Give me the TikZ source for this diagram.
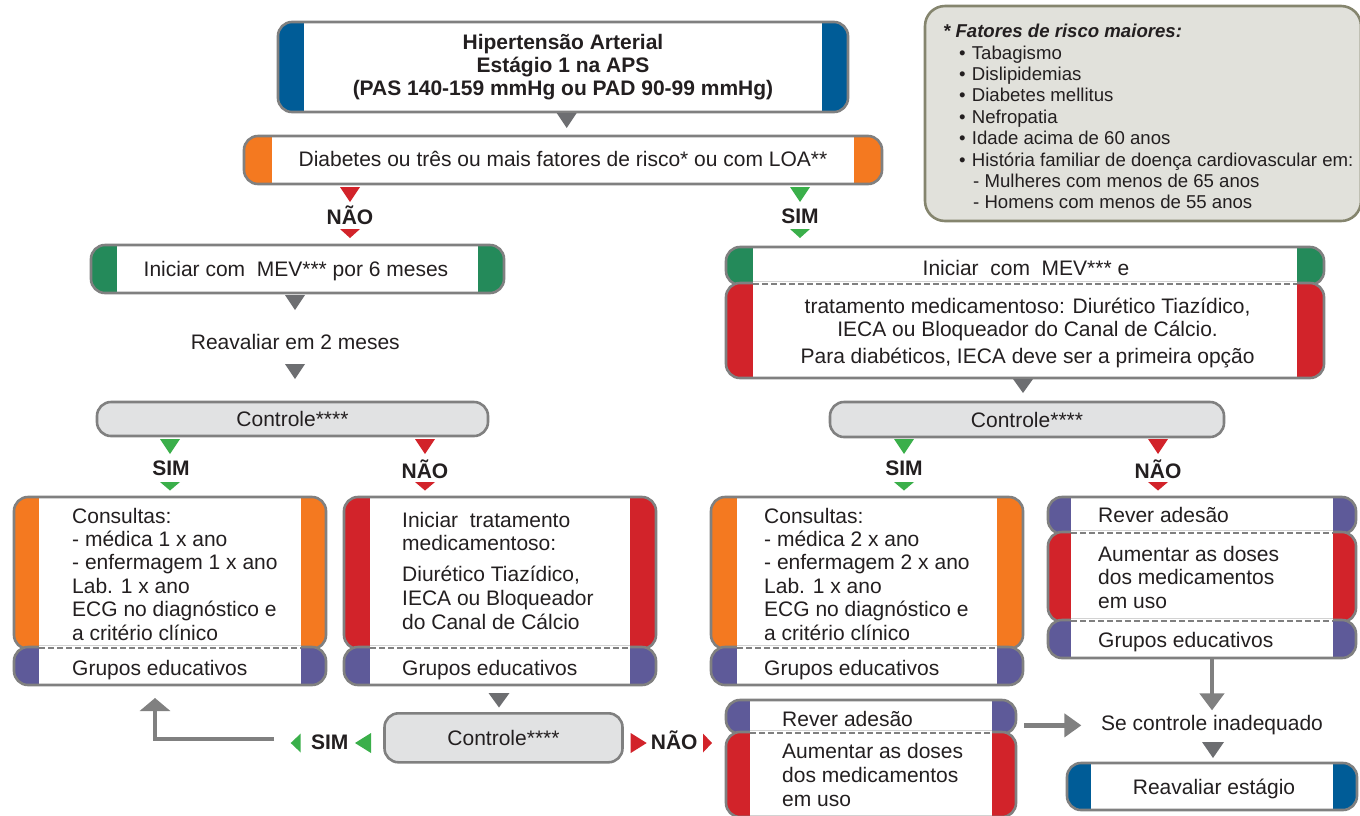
\documentclass[tikz,border=0pt]{standalone}
\usepackage{fontspec}
\setmainfont{Liberation Sans}
\usetikzlibrary{arrows.meta,calc}
\definecolor{hblue}{HTML}{005C97}
\definecolor{horange}{HTML}{F47920}
\definecolor{hgreen}{HTML}{248A5A}
\definecolor{hred}{HTML}{D2232A}
\definecolor{hpurple}{HTML}{5E5A99}
\definecolor{lgray}{HTML}{E1E2E3}
\definecolor{bgray}{HTML}{808080}
\definecolor{tgray}{HTML}{6D6E71}
\definecolor{bgreen}{HTML}{3AAF4A}
\definecolor{rfill}{HTML}{E1E1DB}
\definecolor{rborder}{HTML}{85856E}
\definecolor{tcol}{HTML}{231F20}
\newcommand\fbody{\fontsize{21}{25}\selectfont}
\newcommand\fsmall{\fontsize{18.6}{21}\selectfont}
\tikzset{
  sect/.style 2 args={draw=bgray, line width=2.6pt, fill=white, rounded corners=14pt,
    inner sep=0pt, outer sep=0pt,
    path picture={
      \fill[#1, sharp corners] (path picture bounding box.north west) rectangle ([xshift=#2pt]path picture bounding box.south west);
      \fill[#1, sharp corners] (path picture bounding box.north east) rectangle ([xshift=-#2pt]path picture bounding box.south east);}},
  ctrl/.style={draw=bgray, line width=2.6pt, fill=lgray, rounded corners=14pt, inner sep=0pt,
    outer sep=0pt, font=\fbody, text=tcol},
  txt/.style={font=\fbody, text=tcol, inner sep=0pt, anchor=base},
  ltxt/.style={font=\fbody, text=tcol, inner sep=0pt, anchor=base west},
  btxt/.style={font=\fbody\bfseries, text=tcol, inner sep=0pt, anchor=base},
  rtxt/.style={font=\fsmall, text=tcol, inner sep=0pt, anchor=base west},
  sepline/.style={draw=bgray, line width=2.4pt, dash pattern=on 5.5pt off 3.5pt},
  conn/.style={draw=bgray, line width=4.5pt},
}
% name, x1, y1, x2, y2, colour, bar width
\newcommand\mybox[7]{\node[sect={#6}{#7}, minimum width={(#4-#2)*1pt}, minimum height={(#5-#3)*1pt}] (#1) at ({(#2+#4)/2},{(#3+#5)/2}) {};}
% separator: x1, x2, y
\newcommand\mysep[3]{\fill[white] (#1,{#3-2.4}) rectangle (#2,{#3+2.4}); \draw[sepline] (#1,#3) -- (#2,#3);}
% down triangle: x, ytop, width, height, colour
\newcommand\dtri[5]{\fill[#5] ({#1-#3/2},#2) -- ({#1+#3/2},#2) -- (#1,{#2+#4}) -- cycle;}
% left triangle: xtip, ycentre, width, height, colour
\newcommand\ltri[5]{\fill[#5] (#1,#2) -- ({#1+#3},{#2-#4/2}) -- ({#1+#3},{#2+#4/2}) -- cycle;}
% right triangle: xtip, ycentre, width, height, colour
\newcommand\rtri[5]{\fill[#5] (#1,#2) -- ({#1-#3},{#2-#4/2}) -- ({#1-#3},{#2+#4/2}) -- cycle;}
\begin{document}
\begin{tikzpicture}[x=1pt,y=-1pt]
\useasboundingbox (0,0) rectangle (1360,815);

% risk factor box
\node[draw=rborder, fill=rfill, line width=2.6pt, rounded corners=20pt, inner sep=0pt,
  minimum width=436pt, minimum height=215pt] (risk) at (1143,113.5) {};
\node[rtxt, font=\fsmall\bfseries\itshape] (rk0) at (943,37.5) {* Fatores de risco maiores:};
\node[rtxt] (rk1) at (971.7,59) {Tabagismo};
\node[rtxt] (rk2) at (971.7,80.4) {Dislipidemias};
\node[rtxt] (rk3) at (971.7,101.8) {Diabetes mellitus};
\node[rtxt] (rk4) at (971.7,123.2) {Nefropatia};
\node[rtxt] (rk5) at (971.7,144.6) {Idade acima de 60 anos};
\node[rtxt] (rk6) at (971.7,166) {História familiar de doença cardiovascular em:};
\node[rtxt] (rk7) at (973,187.4) {- Mulheres com menos de 65 anos};
\node[rtxt] (rk8) at (973,208.8) {- Homens com menos de 55 anos};
\foreach \i/\y in {1/59,2/80.4,3/101.8,4/123.2,5/144.6,6/166}
  \node[rtxt, anchor=base] (bul\i) at (962.3,\y) {\textbullet};

% top box
\mybox{top}{278}{22}{848}{112}{hblue}{26}
\node[btxt] (t1) at (563,49.3) {Hipertensão Arterial};
\node[btxt] (t2) at (563,72.5) {Estágio 1 na APS};
\node[btxt] (t3) at (563,95.7) {(PAS 140-159 mmHg ou PAD 90-99 mmHg)};
\dtri{566.7}{113}{20}{15}{tgray}

% diabetes box
\mybox{diab}{244}{136}{882}{184}{horange}{28}
\node[txt] (d1) at (563,166.7) {Diabetes ou três ou mais fatores de risco* ou com LOA**};

% first branch labels
\dtri{350}{187}{20}{15}{hred}
\node[btxt] (nao1) at (350,224) {NÃO};
\dtri{350}{229}{20}{9}{hred}
\dtri{800}{187}{20}{15}{bgreen}
\node[btxt] (sim1) at (800,223) {SIM};
\dtri{800}{229}{20}{9}{bgreen}

% left column
\mybox{ini}{91}{245}{504}{293}{hgreen}{26}
\node[txt] (ini1) at (296,276.7) {Iniciar com\ \ MEV*** por 6 meses};
\dtri{295}{295}{20}{15}{tgray}
\node[txt] (reav) at (295.3,349) {Reavaliar em 2 meses};
\dtri{295}{364}{20}{15}{tgray}
\node[ctrl, minimum width=391pt, minimum height=34pt] (ctl1) at (292.5,419) {Controle****};

\dtri{170}{439}{20}{15}{bgreen}
\node[btxt] (sim2) at (171,475.7) {SIM};
\dtri{170}{482}{20}{8.5}{bgreen}
\dtri{425}{439}{20}{15}{hred}
\node[btxt] (nao2) at (425,478) {NÃO};
\dtri{425}{482}{20}{8.5}{hred}

% L1
\mybox{La}{14}{497}{326}{649}{horange}{25}
\mybox{Lb}{14}{647}{326}{685}{hpurple}{25}
\mysep{39}{301}{648}
\node[ltxt] (la1) at (72,523) {Consultas:};
\node[ltxt] (la2) at (72,546.4) {- médica 1 x ano};
\node[ltxt] (la3) at (72,569.8) {- enfermagem 1 x ano};
\node[ltxt] (la4) at (72,593.2) {Lab. 1 x ano};
\node[ltxt] (la5) at (72,616.6) {ECG no diagnóstico e};
\node[ltxt] (la6) at (72,640) {a critério clínico};
\node[ltxt] (lb1) at (72,675) {Grupos educativos};

% L2
\mybox{Ma}{344}{497}{656}{649}{hred}{26}
\mybox{Mb}{344}{647}{656}{685}{hpurple}{26}
\mysep{370}{630}{648}
\node[ltxt] (ma1) at (402,527.3) {Iniciar\ \ tratamento};
\node[ltxt] (ma2) at (402,550.7) {medicamentoso:};
\node[ltxt] (ma3) at (402,581.7) {Diurético Tiazídico,};
\node[ltxt] (ma4) at (402,605.5) {IECA ou Bloqueador};
\node[ltxt] (ma5) at (402,629.3) {do Canal de Cálcio};
\node[ltxt] (mb1) at (402,675) {Grupos educativos};
\dtri{499}{693}{21}{14.5}{tgray}

% bottom control
\node[ctrl, minimum width=238pt, minimum height=49pt] (ctl3) at (503.5,737.8) {Controle****};
\ltri{355}{743}{16}{20}{bgreen}
\node[btxt] (sim4) at (329.7,749) {SIM};
\ltri{290.7}{743}{10}{19}{bgreen}
\rtri{646.7}{743}{16}{20}{hred}
\node[btxt] (nao4) at (674.2,749) {NÃO};
\rtri{712}{743}{9}{19}{hred}
\coordinate (simend) at (274,739);
\coordinate (simtip) at (155,698);
\draw[conn, -{Triangle[width=30pt,length=13pt]}] (simend) -| (simtip);

% right column
\mybox{Qa}{726}{247}{1324}{285}{hgreen}{27}
\mybox{Qb}{726}{283}{1324}{378}{hred}{27}
\mysep{753}{1297}{284}
\node[txt] (qa1) at (1026,275) {Iniciar\ \ com\ \ MEV*** e};
\node[txt] (qb1) at (1027.6,313.3) {tratamento medicamentoso: Diurético Tiazídico,};
\node[txt] (qb2) at (1027.6,336.5) {IECA ou Bloqueador do Canal de Cálcio.};
\node[txt] (qb3) at (1027.6,363) {Para diabéticos, IECA deve ser a primeira opção};
\dtri{1023}{379}{20}{14}{tgray}
\node[ctrl, minimum width=394pt, minimum height=35pt] (ctl2) at (1027,419.5) {Controle****};

\dtri{904}{439}{20}{15}{bgreen}
\node[btxt] (sim3) at (904,475.7) {SIM};
\dtri{904}{482}{20}{8.5}{bgreen}
\dtri{1158}{439}{20}{15}{hred}
\node[btxt] (nao3) at (1158,478) {NÃO};
\dtri{1158}{482}{20}{8.5}{hred}

% R1
\mybox{Ra}{711}{497}{1023}{649}{horange}{26}
\mybox{Rb}{711}{647}{1023}{685}{hpurple}{26}
\mysep{737}{997}{648}
\node[ltxt] (ra1) at (764,523) {Consultas:};
\node[ltxt] (ra2) at (764,546.4) {- médica 2 x ano};
\node[ltxt] (ra3) at (764,569.8) {- enfermagem 2 x ano};
\node[ltxt] (ra4) at (764,593.2) {Lab. 1 x ano};
\node[ltxt] (ra5) at (764,616.6) {ECG no diagnóstico e};
\node[ltxt] (ra6) at (764,640) {a critério clínico};
\node[ltxt] (rb1) at (764,675) {Grupos educativos};

% R2
\mybox{Sa}{1048}{497}{1356}{534}{hpurple}{23}
\mybox{Sb}{1048}{532}{1356}{622}{hred}{23}
\mybox{Sc}{1048}{620}{1356}{658}{hpurple}{23}
\mysep{1071}{1333}{533}
\mysep{1071}{1333}{621}
\node[ltxt] (sa1) at (1098,522.3) {Rever adesão};
\node[ltxt] (sb1) at (1098,561) {Aumentar as doses};
\node[ltxt] (sb2) at (1098,584) {dos medicamentos};
\node[ltxt] (sb3) at (1098,608.3) {em uso};
\node[ltxt] (sc1) at (1098,647.5) {Grupos educativos};

% R3
\mybox{Ta}{726}{700}{1016}{734}{hpurple}{24}
\mybox{Tb}{726}{732}{1016}{817}{hred}{24}
\mysep{750}{992}{733}
\node[ltxt] (ta1) at (782,726.7) {Rever adesão};
\node[ltxt] (tb1) at (782,758.5) {Aumentar as doses};
\node[ltxt] (tb2) at (782,782.5) {dos medicamentos};
\node[ltxt] (tb3) at (782,806) {em uso};

% final
\node[txt] (se) at (1212,730.8) {Se controle inadequado};
\draw[conn, shorten <=8pt, shorten >=19.5pt, -{Triangle[width=23pt,length=17pt]}] (Ta.east |- se.west) -- (se.west);
\draw[conn, shorten >=5pt, -{Triangle[width=24pt,length=17pt]}] (Sc.south -| se.north) -- (se.north);
\dtri{1213}{742}{22}{16}{tgray}
\mybox{rv}{1067}{763}{1357}{810}{hblue}{24}
\node[txt] (rv1) at (1214,794) {Reavaliar estágio};
\end{tikzpicture}
\end{document}
